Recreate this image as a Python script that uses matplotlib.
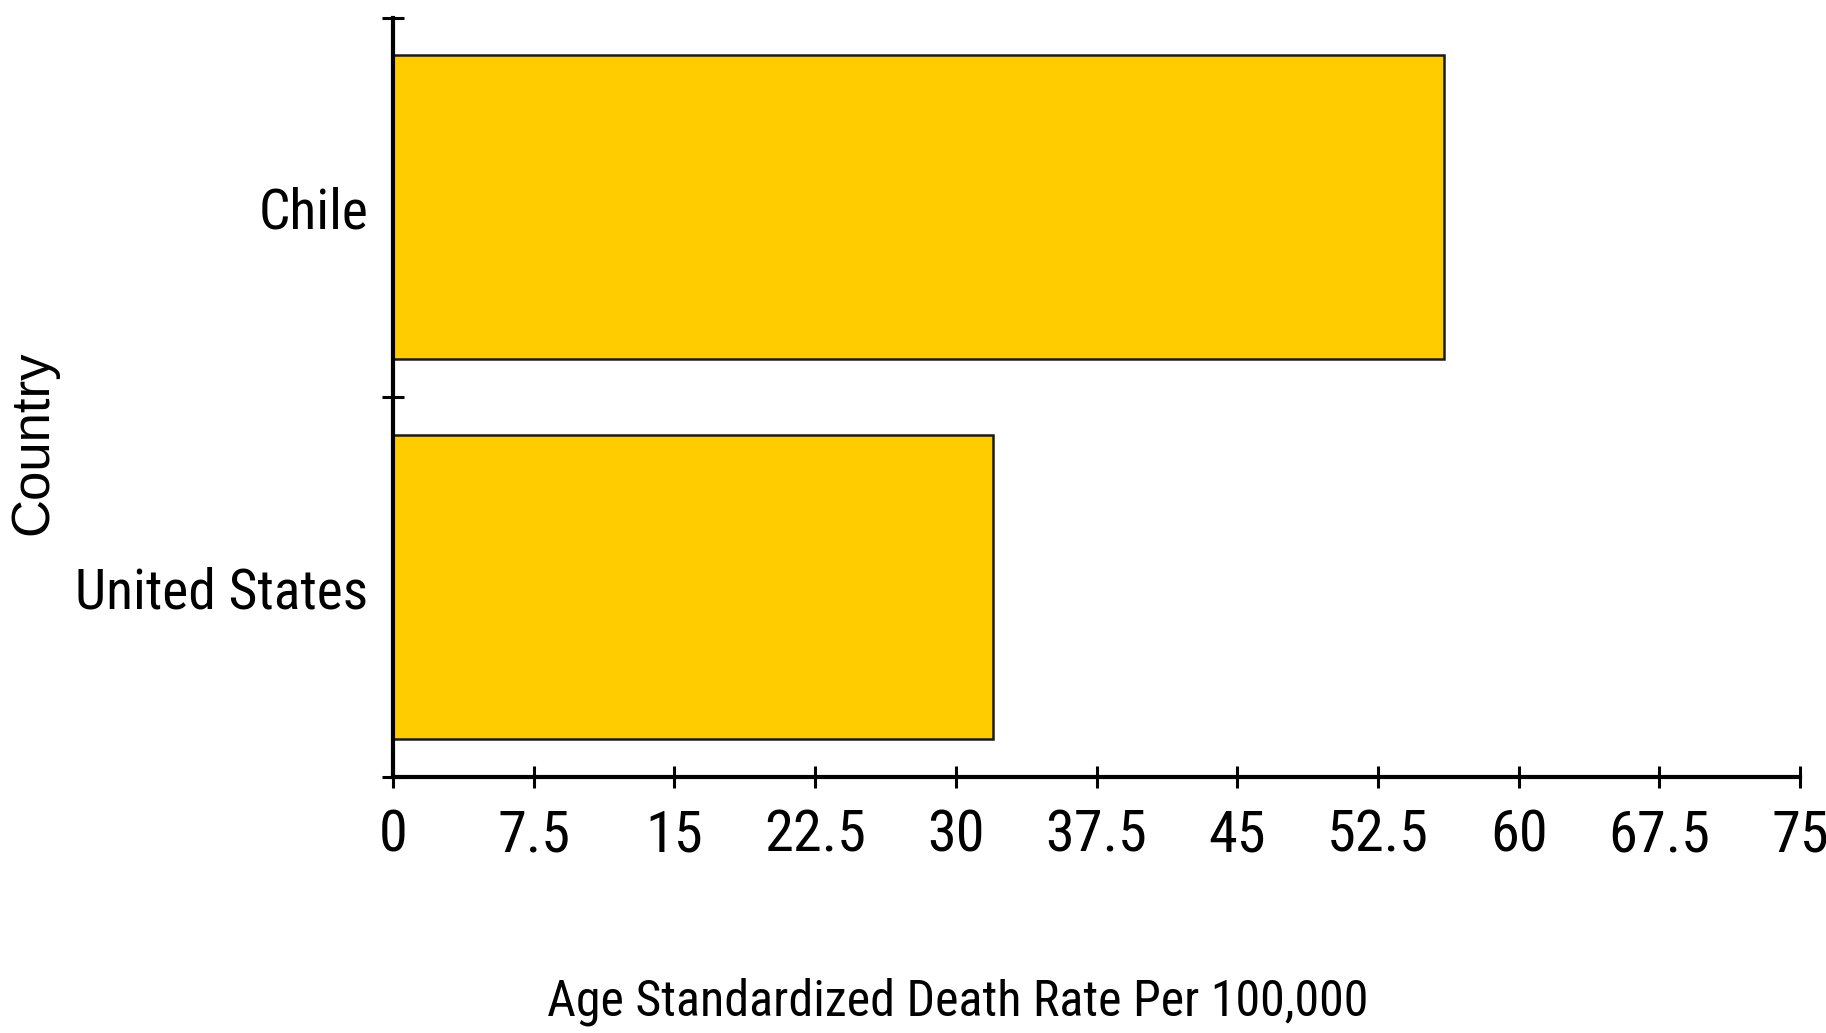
import matplotlib
matplotlib.use("Agg")
import matplotlib.pyplot as plt
import numpy as np

# Death rates per 100,000 (age standardized)
countries = ["United States", "Chile"]
rates = [32, 56]
x_ticks = [0, 7.5, 15, 22.5, 30, 37.5, 45, 52.5, 60, 67.5, 75]
x_tick_labels = ["0", "7.5", "15", "22.5", "30", "37.5", "45", "52.5", "60", "67.5", "75"]

narrow = ["Roboto Condensed", "Liberation Sans", "DejaVu Sans"]
regular = ["Liberation Sans", "DejaVu Sans"]

fig = plt.figure(figsize=(18.26, 10.33), dpi=100)
ax = fig.add_axes([393 / 1826, 256 / 1033, 1407 / 1826, 759.5 / 1033])

pos = np.arange(len(countries))
ax.barh(pos, rates, height=0.8, color="#FFCC00", edgecolor="#1a1a1a", linewidth=1.8, zorder=2)

ax.set_xlim(0, 75)
ax.set_ylim(-0.5, len(countries) - 0.5)

# Spines
for side in ["top", "right"]:
    ax.spines[side].set_visible(False)
for side in ["left", "bottom"]:
    ax.spines[side].set_linewidth(3)
    ax.spines[side].set_color("black")

# X ticks
ax.set_xticks(x_ticks)
ax.set_xticklabels(x_tick_labels, fontsize=42, family=narrow)
ax.tick_params(axis="x", direction="inout", length=16, width=2.2, pad=15, colors="black")

# Y ticks: marks on category boundaries, labels at bar centres
ax.set_yticks(np.arange(-0.5, len(countries), 1.0))
ax.set_yticklabels([])
ax.tick_params(axis="y", which="major", direction="inout", length=16, width=2.2)
ax.set_yticks(pos, minor=True)
ax.set_yticklabels(countries, minor=True, fontsize=40, family=narrow)
ax.tick_params(axis="y", which="minor", length=0, pad=18)

# Axis titles
ax.set_xlabel("Age Standardized Death Rate Per 100,000", fontsize=36, family=narrow, va="baseline")
ax.xaxis.set_label_coords(958 / 1826, 18 / 1033, transform=fig.transFigure)
ax.set_ylabel("Country", fontsize=38, family=regular, va="center", ha="center")
ax.yaxis.set_label_coords(33 / 1826, (1033 - 443) / 1033, transform=fig.transFigure)

fig.savefig("out.png", dpi=100)
